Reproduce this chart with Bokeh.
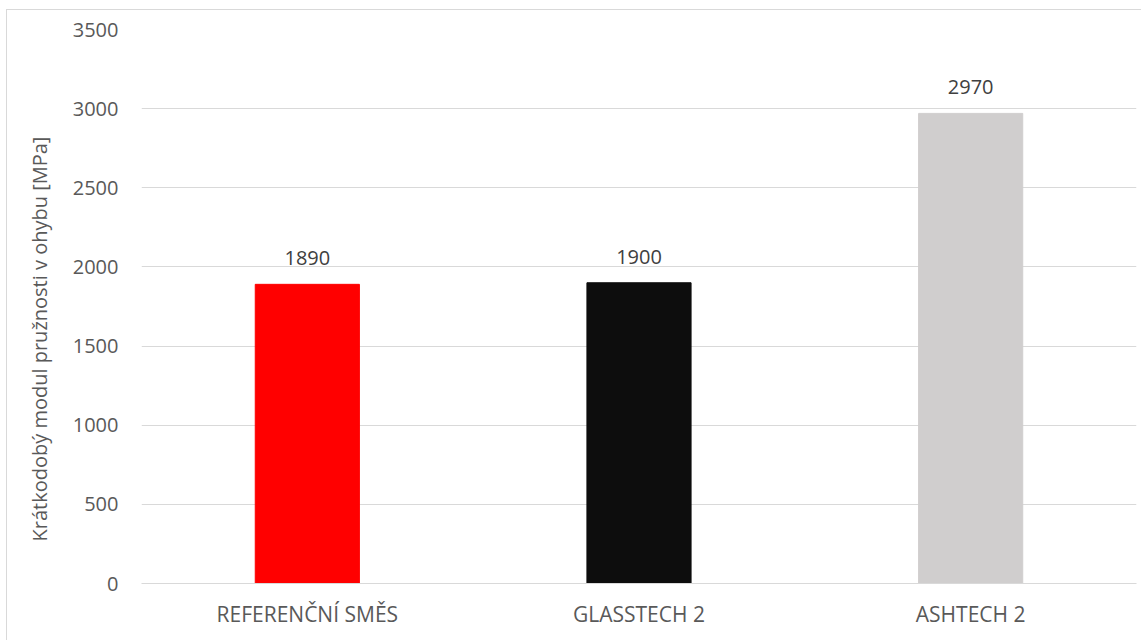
from bokeh.plotting import figure
from bokeh.models import Title, ColumnDataSource
from bokeh.core.properties import value
from bokeh.embed import file_html
from bokeh.resources import INLINE

# Flexural modulus by mixture
categories = ["REFERENČNÍ SMĚS", "GLASSTECH 2", "ASHTECH 2"]
modulus = [1890, 1900, 2970]
bar_colors = ["#FF0000", "#0D0D0D", "#D0CECE"]
y_ticks = [0, 500, 1000, 1500, 2000, 2500, 3000, 3500]
y_title = "Krátkodobý modul pružnosti v ohybu [MPa]"

FONT = "Open Sans"

src = ColumnDataSource(dict(
    cat=categories,
    val=modulus,
    color=bar_colors,
    txt=[str(v) for v in modulus],
))

p = figure(
    x_range=categories,
    y_range=(0, 3500),
    width=1135,
    height=631,
    output_backend="svg",
    toolbar_location=None,
    min_border_left=134,
    min_border_right=6,
    min_border_top=19,
    min_border_bottom=58,
)
p.styles = {
    "margin-left": "6px",
    "margin-top": "9px",
    "border-left": "1px solid #D9D9D9",
    "border-top": "1px solid #D9D9D9",
}
p.outline_line_color = None
p.background_fill_color = "white"
p.border_fill_color = "white"

p.vbar(x="cat", top="val", width=0.314, color="color", source=src)

p.text(x="cat", y="val", text="txt", source=src,
       text_font=value(FONT), text_font_size="20px", text_color="#404040",
       text_align="center", text_baseline="alphabetic", y_offset=-26)

# axes
p.xgrid.grid_line_color = None
p.ygrid.grid_line_color = "#D9D9D9"
p.ygrid.grid_line_width = 1

p.yaxis.ticker = y_ticks
p.yaxis.axis_line_color = None
p.yaxis.major_tick_line_color = None
p.yaxis.minor_tick_line_color = None
p.yaxis.major_label_text_font = FONT
p.yaxis.major_label_text_font_size = "20px"
p.yaxis.major_label_text_color = "#595959"
p.yaxis.major_label_standoff = 17

p.xaxis.axis_line_color = "#D9D9D9"
p.xaxis.major_tick_line_color = None
p.xaxis.minor_tick_line_color = None
p.xaxis.major_label_text_font = FONT
p.xaxis.major_label_text_font_size = "21px"
p.xaxis.major_label_text_color = "#595959"
p.xaxis.major_label_standoff = 10

# vertical axis title in the left margin
p.add_layout(Title(text=y_title, align="left", offset=42, standoff=33,
                   text_font=FONT, text_font_size="20px",
                   text_font_style="normal", text_color="#595959"), "left")

open("out.html", "w").write(file_html(p, INLINE))
